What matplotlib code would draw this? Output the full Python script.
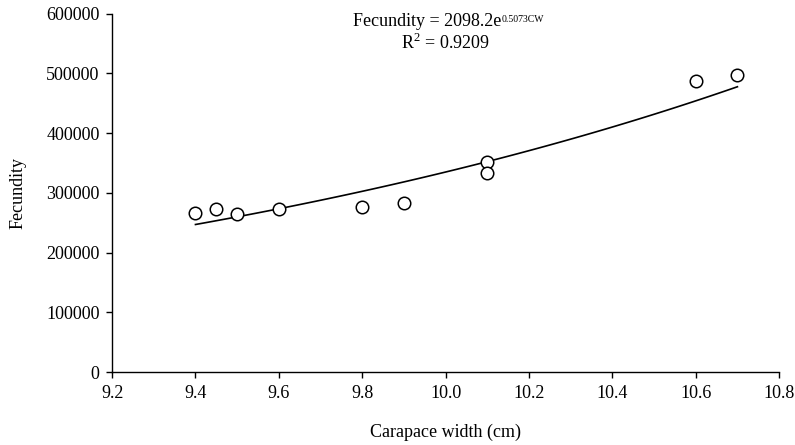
import numpy as np
import matplotlib
matplotlib.use("Agg")
import matplotlib.pyplot as plt

# --- data ---
carapace_width = [9.4, 9.45, 9.5, 9.6, 9.8, 9.9, 10.1, 10.1, 10.6, 10.7]
fecundity = [267000, 273000, 265000, 273500, 276500, 283500, 352000, 334000, 488000, 497500]

# exponential trendline printed on the chart
fit_a = 2098.2
fit_b = 0.5073
fit_r2 = 0.9209

x_ticks = [9.2, 9.4, 9.6, 9.8, 10.0, 10.2, 10.4, 10.6, 10.8]
y_ticks = [0, 100000, 200000, 300000, 400000, 500000, 600000]

plt.rcParams["font.family"] = ["Liberation Serif", "DejaVu Serif"]
plt.rcParams["font.size"] = 13

fig = plt.figure(figsize=(7.95, 4.45), dpi=100)
ax = fig.add_axes([0.141, 0.164, 0.839, 0.805])

xs = np.linspace(min(carapace_width), max(carapace_width), 100)
ax.plot(xs, fit_a * np.exp(fit_b * xs), color="black", lw=1.2, zorder=2)
ax.plot(carapace_width, fecundity, "o", ms=9, mfc="white", mec="black",
        mew=1.1, zorder=3, clip_on=False)

ax.set_xlim(9.2, 10.8)
ax.set_ylim(0, 600000)
ax.set_xticks(x_ticks)
ax.set_xticklabels([f"{t:.1f}" for t in x_ticks])
ax.set_yticks(y_ticks)
ax.set_yticklabels([str(t) for t in y_ticks])

for side in ("top", "right"):
    ax.spines[side].set_visible(False)
for side in ("left", "bottom"):
    ax.spines[side].set_linewidth(1.0)
ax.tick_params(direction="out", length=4, width=1.0, pad=5)

ax.set_xlabel("Carapace width (cm)")
ax.xaxis.set_label_coords(0.5, -0.168)
ax.xaxis.label.set_va("center")
ax.set_ylabel("Fecundity")
ax.yaxis.set_label_coords(-0.141, 0.5)
ax.yaxis.label.set_va("center")

# equation: main part plus a small superscript, like the spreadsheet label
eq = ax.text(0.472, 0.978, "Fecundity = 2098.2e", transform=ax.transAxes,
             ha="center", va="center", fontsize=13)
ax.annotate("0.5073CW", xy=(1, 1), xycoords=eq, xytext=(0.5, -1),
            textcoords="offset points", ha="left", va="top", fontsize=7)
ax.text(0.5, 0.92, r"R$^{\mathregular{2}}$ = " + f"{fit_r2:.4f}",
        transform=ax.transAxes, ha="center", va="center", fontsize=13)

fig.savefig("out.png", dpi=100)
